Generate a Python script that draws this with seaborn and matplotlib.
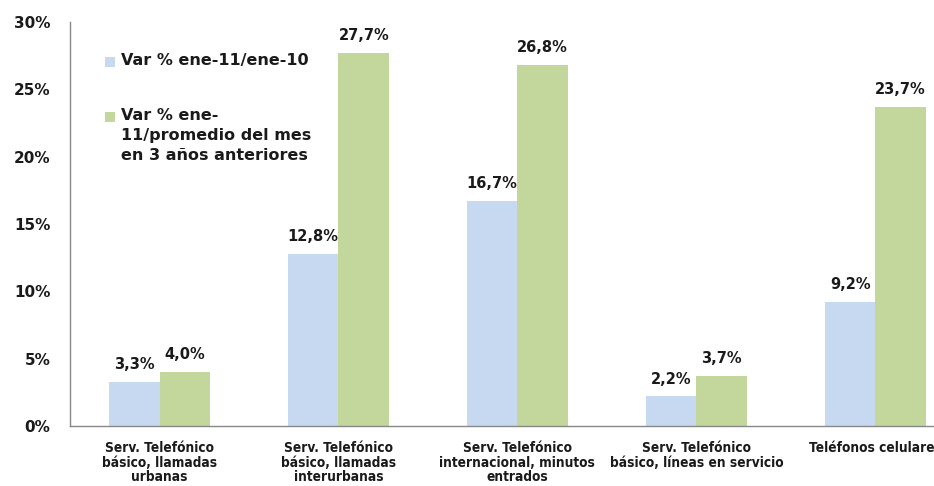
import matplotlib
matplotlib.use("Agg")
import matplotlib.pyplot as plt
import seaborn as sns
import pandas as pd
from matplotlib.patches import Rectangle

categories = [
    "Serv. Telefónico\nbásico, llamadas\nurbanas",
    "Serv. Telefónico\nbásico, llamadas\ninterurbanas",
    "Serv. Telefónico\ninternacional, minutos\nentrados",
    "Serv. Telefónico\nbásico, líneas en servicio",
    "Teléfonos celulares",
]
series_names = [
    "Var % ene-11/ene-10",
    "Var % ene-\n11/promedio del mes\nen 3 años anteriores",
]
var_anual = [3.3, 12.8, 16.7, 2.2, 9.2]
var_promedio = [4.0, 27.7, 26.8, 3.7, 23.7]
colors = ["#C6D9F1", "#C3D69B"]

df = pd.DataFrame({
    "categoria": categories * 2,
    "serie": [series_names[0]] * 5 + [series_names[1]] * 5,
    "valor": var_anual + var_promedio,
})

sns.set_style("white")
plt.rcParams["font.family"] = ["DejaVu Sans"]

fig = plt.figure(figsize=(9.34, 4.86), dpi=100)
ax = fig.add_axes([0.075, 0.1235, 0.958, 0.831])

sns.barplot(data=df, x="categoria", y="valor", hue="serie",
            palette=colors, width=0.565, saturation=1, ax=ax,
            legend=False, edgecolor="none", linewidth=0)

for cont in ax.containers:
    labels = [f"{b.get_height():.1f}%".replace(".", ",") for b in cont]
    ax.bar_label(cont, labels=labels, padding=7, fontsize=10.5,
                 fontweight="bold", color="#1a1a1a")

ax.set_xlim(-0.5, 4.5)
ax.set_ylim(0, 30)
ax.set_yticks(range(0, 31, 5))
ax.set_yticklabels([f"{v}%" for v in range(0, 31, 5)],
                   fontsize=11, fontweight="bold", color="#1a1a1a")

ax.set_xticks([i - 0.5 for i in range(6)])
ax.set_xticklabels([])
ax.set_xticks(range(5), minor=True)
ax.set_xticklabels(categories, minor=True, fontsize=9.8,
                   fontweight="bold", fontstretch="condensed",
                   linespacing=1.04, va="top", color="#1a1a1a")
ax.tick_params(axis="x", which="minor", length=0, pad=11)
ax.tick_params(axis="x", which="major", direction="out", length=6,
               color="#888888", width=1)
ax.tick_params(axis="y", direction="out", length=6, color="#888888",
               width=1, pad=8)
ax.set_xlabel("")
ax.set_ylabel("")

for side in ["top", "right"]:
    ax.spines[side].set_visible(False)
for side in ["left", "bottom"]:
    ax.spines[side].set_color("#888888")
    ax.spines[side].set_linewidth(1)

# Legend: swatch aligned with the first line of each entry
W, H = fig.get_size_inches() * fig.dpi
legend_rows = [(62, series_names[0], colors[0]),
               (117, series_names[1], colors[1])]
for y_px, label, color in legend_rows:
    fig.patches.append(Rectangle((105 / W, 1 - (y_px + 5) / H), 10 / W, 10 / H,
                                 transform=fig.transFigure, facecolor=color,
                                 edgecolor="none"))
    fig.text(121 / W, 1 - (y_px - 9) / H, label, ha="left", va="top",
             fontsize=11.5, fontweight="bold", color="#1a1a1a",
             linespacing=1.42)

fig.savefig("out.png", dpi=100)
